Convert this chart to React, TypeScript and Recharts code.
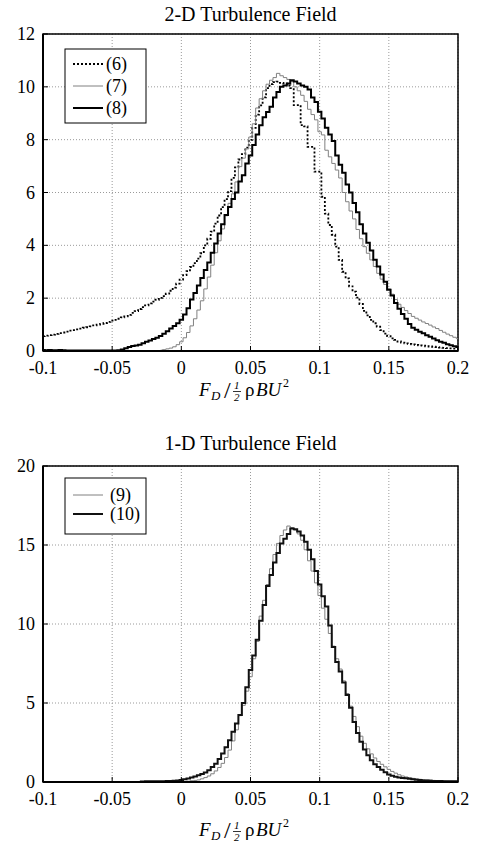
import React from 'react';
import { LineChart, Line, XAxis, YAxis, CartesianGrid, ReferenceArea } from 'recharts';

const FONT = '"Liberation Serif", "Times New Roman", Times, serif';

// Histogram bin centres (F_D / (1/2 rho B U^2))
const X_BINS = [
  -0.1, -0.0975, -0.095, -0.0925, -0.09, -0.0875, -0.085, -0.0825, -0.08, -0.0775,
  -0.075, -0.0725, -0.07, -0.0675, -0.065, -0.0625, -0.06, -0.0575, -0.055, -0.0525,
  -0.05, -0.0475, -0.045, -0.0425, -0.04, -0.0375, -0.035, -0.0325, -0.03, -0.0275,
  -0.025, -0.0225, -0.02, -0.0175, -0.015, -0.0125, -0.01, -0.0075, -0.005, -0.0025,
  0, 0.0025, 0.005, 0.0075, 0.01, 0.0125, 0.015, 0.0175, 0.02, 0.0225,
  0.025, 0.0275, 0.03, 0.0325, 0.035, 0.0375, 0.04, 0.0425, 0.045, 0.0475,
  0.05, 0.0525, 0.055, 0.0575, 0.06, 0.0625, 0.065, 0.0675, 0.07, 0.0725,
  0.075, 0.0775, 0.08, 0.0825, 0.085, 0.0875, 0.09, 0.0925, 0.095, 0.0975,
  0.1, 0.1025, 0.105, 0.1075, 0.11, 0.1125, 0.115, 0.1175, 0.12, 0.1225,
  0.125, 0.1275, 0.13, 0.1325, 0.135, 0.1375, 0.14, 0.1425, 0.145, 0.1475,
  0.15, 0.1525, 0.155, 0.1575, 0.16, 0.1625, 0.165, 0.1675, 0.17, 0.1725,
  0.175, 0.1775, 0.18, 0.1825, 0.185, 0.1875, 0.19, 0.1925, 0.195, 0.1975,
  0.2,
];

// 2-D turbulence field
const S6 = [
  0.56, 0.58, 0.60, 0.62, 0.65, 0.68, 0.70, 0.73, 0.77, 0.79,
  0.82, 0.85, 0.88, 0.90, 0.93, 0.97, 1.00, 1.03, 1.06, 1.10,
  1.15, 1.18, 1.22, 1.27, 1.31, 1.37, 1.44, 1.51, 1.59, 1.66,
  1.73, 1.80, 1.87, 1.94, 2.01, 2.08, 2.17, 2.28, 2.40, 2.55,
  2.70, 2.87, 3.02, 3.18, 3.33, 3.50, 3.70, 4.00, 4.25, 4.52,
  4.82, 5.13, 5.45, 5.75, 6.05, 6.55, 6.95, 7.25, 7.45, 7.70,
  7.99, 8.45, 8.95, 9.30, 9.60, 9.95, 10.10, 10.18, 10.20, 10.15,
  10.13, 10.05, 9.95, 9.31, 9.31, 8.55, 8.50, 7.73, 7.73, 6.79,
  6.79, 5.84, 5.20, 4.77, 4.40, 3.95, 3.45, 3.00, 2.75, 2.45,
  2.25, 2.02, 1.78, 1.52, 1.35, 1.18, 1.05, 0.92, 0.79, 0.66,
  0.56, 0.48, 0.42, 0.36, 0.32, 0.29, 0.27, 0.25, 0.23, 0.21,
  0.20, 0.18, 0.17, 0.16, 0.15, 0.13, 0.12, 0.11, 0.10, 0.09,
  0.08,
];

const S7 = [
  null, null, null, null, null, null, null, null, null, null,
  null, null, null, null, null, null, null, null, null, null,
  null, null, null, null, null, null, null, null, null, null,
  null, null, null, null, 0.03, 0.05, 0.08, 0.11, 0.16, 0.24,
  0.35, 0.5, 0.7, 0.95, 1.22, 1.55, 1.9, 2.35, 2.8, 3.25,
  3.72, 4.17, 4.62, 5.12, 5.59, 5.95, 6.4, 6.98, 7.3, 7.65,
  8.1, 8.6, 9.2, 9.55, 9.85, 10.1, 10.25, 10.35, 10.51, 10.42,
  10.35, 10.28, 10.2, 10.0, 9.85, 9.68, 9.45, 9.15, 8.95, 8.75,
  8.3, 8.18, 7.6, 7.35, 7.1, 6.85, 6.55, 6.0, 5.65, 5.3,
  5.0, 4.6, 4.25, 3.95, 3.7, 3.45, 3.2, 2.94, 2.72, 2.52,
  2.35, 2.15, 1.95, 1.77, 1.65, 1.53, 1.42, 1.31, 1.24, 1.17,
  1.1, 1.04, 0.98, 0.91, 0.85, 0.78, 0.71, 0.64, 0.58, 0.52,
  0.47,
];

const S8 = [
  0.04, 0.03, 0.04, 0.03, 0.03, 0.04, 0.03, 0.02, 0.02, 0.02,
  0.02, 0.02, 0.02, 0.02, 0.02, 0.02, 0.02, 0.02, 0.02, 0.02,
  0.02, 0.02, 0.03, 0.06, 0.1, 0.15, 0.19, 0.21, 0.24, 0.29,
  0.35, 0.40, 0.45, 0.50, 0.57, 0.65, 0.75, 0.85, 0.95, 1.05,
  1.18, 1.38, 1.62, 1.95, 2.2, 2.48, 2.76, 3.07, 3.35, 3.72,
  4.07, 4.45, 4.8, 5.15, 5.45, 5.75, 6.0, 6.42, 6.65, 7.1,
  7.4, 7.8, 8.2, 8.55, 8.85, 9.05, 9.25, 9.6, 9.8, 10.0,
  10.05, 10.13, 10.25, 10.2, 10.13, 10.05, 10.0, 9.9, 9.6, 9.43,
  9.06, 8.8, 8.45, 8.2, 7.95, 7.4, 7.05, 6.75, 6.3, 6.0,
  5.6, 5.25, 4.8, 4.45, 4.1, 3.8, 3.45, 3.2, 2.9, 2.62,
  2.32, 2.1, 1.82, 1.6, 1.4, 1.22, 1.02, 0.88, 0.8, 0.73,
  0.67, 0.6, 0.54, 0.47, 0.41, 0.35, 0.31, 0.26, 0.22, 0.18,
  0.15,
];

// 1-D turbulence field
const S9 = [
  null, null, null, null, null, null, null, null, null, null,
  null, null, null, null, null, null, null, null, null, null,
  null, null, null, null, null, null, null, null, null, null,
  null, null, null, null, null, null, null, null, null, null,
  0.02, 0.03, 0.05, 0.08, 0.1, 0.13, 0.2, 0.28, 0.38, 0.52,
  0.7, 0.92, 1.18, 1.55, 2.02, 2.6, 3.3, 4.2, 4.85, 5.75,
  6.66, 7.8, 8.9, 10.5, 11.5, 12.5, 13.5, 14.4, 15.1, 15.6,
  15.95, 16.2, 16.1, 15.95, 15.7, 15.3, 14.7, 14.0, 13.35, 12.6,
  11.8, 11.0, 10.3, 9.4, 8.6, 7.8, 7.15, 6.4, 5.6, 4.8,
  4.15, 3.5, 2.9, 2.45, 2.1, 1.78, 1.52, 1.3, 1.12, 0.96,
  0.8, 0.67, 0.56, 0.46, 0.38, 0.32, 0.27, 0.23, 0.2, 0.17,
  0.15, 0.13, 0.12, 0.1, 0.09, 0.08, 0.07, 0.06, 0.06, 0.05,
  0.05,
];

const S10 = [
  null, null, null, null, null, null, null, null, null, null,
  null, null, null, null, null, null, null, null, null, null,
  null, null, null, null, null, null, null, null, 0.03, 0.03,
  0.04, 0.04, 0.04, 0.05, 0.05, 0.05, 0.06, 0.06, 0.08, 0.1,
  0.13, 0.17, 0.22, 0.28, 0.35, 0.42, 0.5, 0.6, 0.75, 0.95,
  1.15, 1.45, 1.8, 2.2, 2.65, 3.18, 3.7, 4.24, 5.0, 6.0,
  7.09, 8.0, 9.0, 10.2, 11.2, 12.4, 13.1, 13.9, 14.5, 15.1,
  15.4, 15.7, 16.05, 16.0, 15.85, 15.6, 15.2, 14.7, 14.1, 13.35,
  12.5, 11.75, 11.1, 9.9, 8.55, 7.6, 7.0, 6.3, 5.5, 4.7,
  3.8, 3.1, 2.55, 2.05, 1.7, 1.38, 1.12, 0.95, 0.78, 0.62,
  0.48, 0.4, 0.34, 0.29, 0.26, 0.23, 0.2, 0.17, 0.14, 0.12,
  0.1, 0.09, 0.08, 0.07, 0.06, 0.06, 0.05, 0.05, 0.05, 0.05,
  0.05,
];

const X_TICKS = [-0.1, -0.05, 0, 0.05, 0.1, 0.15, 0.2];
const Y_TICKS_TOP = [0, 2, 4, 6, 8, 10, 12];
const Y_TICKS_BOTTOM = [0, 5, 10, 15, 20];

const TITLE_TOP = '2-D Turbulence Field';
const TITLE_BOTTOM = '1-D Turbulence Field';
const LEGEND_TOP = ['(6)', '(7)', '(8)'];
const LEGEND_BOTTOM = ['(9)', '(10)'];

const topData = X_BINS.map((x, i) => ({ x, s6: S6[i], s7: S7[i], s8: S8[i] }));
const bottomData = X_BINS.map((x, i) => ({ x, s9: S9[i], s10: S10[i] }));

function XTick(props: any) {
  const { x, y, payload } = props;
  return (
    <text x={x} y={y} dy={12.5} textAnchor="middle" fontFamily={FONT} fontSize={18} fill="#000">
      {String(payload.value)}
    </text>
  );
}

function YTick(props: any) {
  const { x, y, payload } = props;
  return (
    <text x={x} y={y} dy={6} textAnchor="end" fontFamily={FONT} fontSize={18} fill="#000">
      {String(payload.value)}
    </text>
  );
}

function Panel(props: {
  data: any[];
  yMax: number;
  yTicks: number[];
  height: number;
  margin: any;
  children: React.ReactNode;
}) {
  const { data, yMax, yTicks, height, margin, children } = props;
  return (
    <LineChart width={486} height={height} data={data} margin={margin}>
      <CartesianGrid stroke="#9a9a9a" strokeDasharray="1 2" strokeWidth={1} />
      <XAxis
        dataKey="x"
        type="number"
        domain={[-0.1, 0.2]}
        ticks={X_TICKS}
        allowDataOverflow
        height={1}
        tickSize={-5}
        tickMargin={15}
        tick={<XTick />}
        axisLine={{ stroke: '#000', strokeWidth: 2 }}
        tickLine={{ stroke: '#000' }}
        interval={0}
      />
      <YAxis
        type="number"
        domain={[0, yMax]}
        ticks={yTicks}
        allowDataOverflow
        width={1}
        tickSize={-5}
        tickMargin={13}
        tick={<YTick />}
        axisLine={{ stroke: '#000', strokeWidth: 2 }}
        tickLine={{ stroke: '#000' }}
        interval={0}
      />
      {children}
      <ReferenceArea x1={-0.1} x2={0.2} y1={0} y2={yMax} fill="none" stroke="#000" strokeWidth={1.5} />
    </LineChart>
  );
}

function AxisTitle({ x0, base }: { x0: number; base: number }) {
  return (
    <g fontFamily={FONT} fill="#000">
      <text x={x0} y={base} fontSize={19} fontStyle="italic">F</text>
      <text x={x0 + 12} y={base + 4} fontSize={13} fontStyle="italic">D</text>
      <text x={x0 + 25} y={base + 2} fontSize={24}>/</text>
      <text x={x0 + 35} y={base - 7} fontSize={11} fontStyle="italic">1</text>
      <line x1={x0 + 34} x2={x0 + 42} y1={base - 4.5} y2={base - 4.5} stroke="#000" strokeWidth={0.8} />
      <text x={x0 + 35} y={base + 5} fontSize={11} fontStyle="italic">2</text>
      <text x={x0 + 46} y={base} fontSize={19}>ρ</text>
      <text x={x0 + 57} y={base} fontSize={19} fontStyle="italic">BU</text>
      <text x={x0 + 84} y={base - 9} fontSize={12}>2</text>
    </g>
  );
}

function LegendBox({ x, y, w, h, items, rowY, textX }: any) {
  return (
    <g fontFamily={FONT}>
      <rect x={x} y={y} width={w} height={h} fill="#fff" stroke="#000" strokeWidth={1} />
      {items.map((it: any, i: number) => (
        <g key={i}>
          <line
            x1={73}
            x2={103}
            y1={rowY[i]}
            y2={rowY[i]}
            stroke={it.color}
            strokeWidth={it.width}
            strokeDasharray={it.dash}
          />
          <text x={textX} y={rowY[i] + 6} fontSize={18} fill="#000">{it.label}</text>
        </g>
      ))}
    </g>
  );
}

export default function App() {
  return (
    <div style={{ position: 'absolute', left: 0, top: 0, width: 486, height: 845, background: '#fff', fontFamily: FONT }}>
      <div style={{ position: 'absolute', left: 0, top: 0 }}>
        <Panel data={topData} yMax={12} yTicks={Y_TICKS_TOP} height={420} margin={{ top: 34, right: 28, bottom: 68, left: 42 }}>
          <Line dataKey="s6" type="step" stroke="#000" strokeWidth={1.8} strokeDasharray="2 2" dot={false} isAnimationActive={false} />
          <Line dataKey="s7" type="step" stroke="#808080" strokeWidth={1} dot={false} isAnimationActive={false} />
          <Line dataKey="s8" type="step" stroke="#000" strokeWidth={2} dot={false} isAnimationActive={false} />
        </Panel>
      </div>
      <div style={{ position: 'absolute', left: 0, top: 430 }}>
        <Panel data={bottomData} yMax={20} yTicks={Y_TICKS_BOTTOM} height={415} margin={{ top: 36, right: 28, bottom: 62, left: 42 }}>
          <Line dataKey="s9" type="step" stroke="#808080" strokeWidth={1} dot={false} isAnimationActive={false} />
          <Line dataKey="s10" type="step" stroke="#111" strokeWidth={2} dot={false} isAnimationActive={false} />
        </Panel>
      </div>
      <svg width={486} height={845} style={{ position: 'absolute', left: 0, top: 0, pointerEvents: 'none' }}>
        <text x={250.5} y={21} textAnchor="middle" fontFamily={FONT} fontSize={20} fill="#000">{TITLE_TOP}</text>
        <text x={250.5} y={450} textAnchor="middle" fontFamily={FONT} fontSize={20} fill="#000">{TITLE_BOTTOM}</text>
        <AxisTitle x0={199} base={396} />
        <AxisTitle x0={199} base={836} />
        <LegendBox
          x={65}
          y={49}
          w={81}
          h={74}
          rowY={[64, 86, 108]}
          textX={106}
          items={[
            { label: LEGEND_TOP[0], color: '#000', width: 1.8, dash: '2 2' },
            { label: LEGEND_TOP[1], color: '#808080', width: 1, dash: undefined },
            { label: LEGEND_TOP[2], color: '#000', width: 2, dash: undefined },
          ]}
        />
        <LegendBox
          x={65}
          y={478}
          w={81}
          h={56}
          rowY={[495, 514]}
          textX={110}
          items={[
            { label: LEGEND_BOTTOM[0], color: '#808080', width: 1, dash: undefined },
            { label: LEGEND_BOTTOM[1], color: '#111', width: 2, dash: undefined },
          ]}
        />
      </svg>
    </div>
  );
}
